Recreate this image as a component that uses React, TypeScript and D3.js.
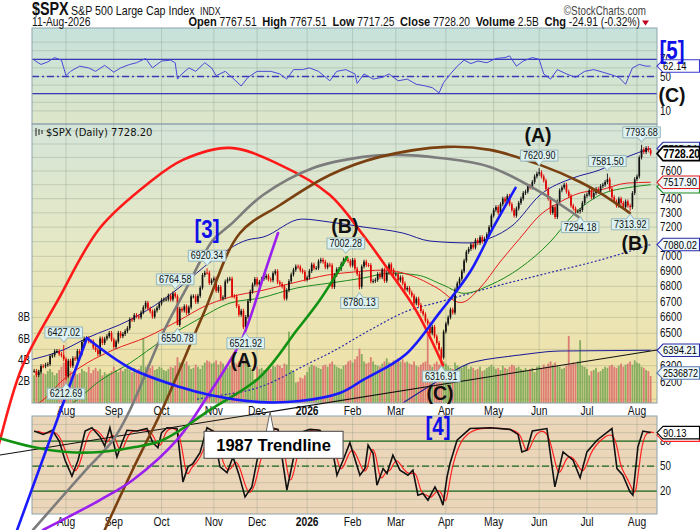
import React, { useEffect, useRef } from "react"
import * as d3 from "d3"

// trading calendar of the chart
const firstDay = "2025-07-14"
const lastDay = "2026-08-11"
const holidays = [
  "2025-09-01", "2025-11-27", "2025-12-25", "2026-01-01", "2026-01-19",
  "2026-02-16", "2026-04-03", "2026-05-25", "2026-06-19", "2026-07-03",
]

// daily closes, one array per month
const closeJul25 = [6268.56, 6243.76, 6263.7, 6297.36, 6296.79, 6305.6, 6309.62, 6358.91, 6363.35, 6388.64, 6389.77, 6370.86, 6362.9, 6339.39]
const closeAug25 = [6238.01, 6329.94, 6299.19, 6345.06, 6340.0, 6389.45, 6373.45, 6445.76, 6466.58, 6468.54, 6449.8, 6449.15, 6411.37, 6395.78, 6370.17, 6466.91, 6439.32, 6465.94, 6481.4, 6501.86, 6460.26]
const closeSep25 = [6415.54, 6448.26, 6502.08, 6481.5, 6495.15, 6512.61, 6532.04, 6587.47, 6584.29, 6615.28, 6606.76, 6600.35, 6631.96, 6664.36, 6693.75, 6656.92, 6637.97, 6604.72, 6643.7, 6661.21, 6688.46]
const closeOct25 = [6711.2, 6715.35, 6715.79, 6740.28, 6714.59, 6753.72, 6735.11, 6552.51, 6654.72, 6644.31, 6671.06, 6629.07, 6664.01, 6735.13, 6735.35, 6699.4, 6738.44, 6791.69, 6875.16, 6890.89, 6890.59, 6822.34, 6840.2]
const closeNov25 = [6851.97, 6771.55, 6796.29, 6720.32, 6728.8, 6832.43, 6846.61, 6850.92, 6737.49, 6734.11, 6672.41, 6617.32, 6642.16, 6538.76, 6602.99, 6705.12, 6765.88, 6812.61, 6849.09]
const closeDec25 = [6812.63, 6829.37, 6849.72, 6857.12, 6870.4, 6846.51, 6840.51, 6886.68, 6901.0, 6827.41, 6816.51, 6800.26, 6721.43, 6774.76, 6834.5, 6878.49, 6909.79, 6932.05, 6929.94, 6905.74, 6896.24, 6845.5]
const closeJan26 = [6858.47, 6902.05, 6944.82, 6920.93, 6921.46, 6966.28, 6977.27, 6963.74, 6926.6, 6944.47, 6940.01, 6796.86, 6875.62, 6913.35, 6915.61, 6950.23, 6978.6, 6978.03, 6969.01, 6939.03]
const closeFeb26 = [6976, 6917, 6882, 6798, 6932, 6964, 6942, 6941, 6833, 6836, 6843, 6881, 6861, 6910, 6837, 6890, 6946, 6908, 6879]
const closeMar26 = [6880, 6840, 6860, 6820, 6780, 6790, 6760, 6740, 6690, 6720, 6680, 6640, 6620, 6580, 6560, 6500, 6540, 6480, 6440, 6400, 6350, 6510]
const closeApr26 = [6560, 6600, 6650, 6630, 6780, 6820, 6850, 6900, 6970, 7030, 7050, 7080, 7060, 7110, 7090, 7130, 7100, 7120, 7150, 7200, 7280]
const closeMay26 = [7320, 7340, 7300, 7360, 7400, 7380, 7420, 7360, 7320, 7280, 7330, 7370, 7400, 7440, 7450, 7490, 7480, 7520, 7560, 7580]
const closeJun26 = [7590, 7560, 7530, 7470, 7400, 7300, 7340, 7270, 7380, 7460, 7480, 7500, 7450, 7420, 7350, 7330, 7310, 7310, 7320, 7370, 7420]
const closeJul26 = [7430, 7460, 7410, 7440, 7470, 7450, 7490, 7500, 7520, 7540, 7470, 7410, 7380, 7350, 7400, 7370, 7340, 7380, 7350, 7340, 7440, 7540]
const closeAug26 = [7560, 7700, 7760, 7740, 7770, 7753.11, 7728.2]

// daily volume in billions
const volJul25 = [2.6, 2.9, 3.1, 3.3, 2.8, 2.7, 3.0, 3.2, 2.9, 2.6, 2.8, 3.1, 3.4, 3.8]
const volAug25 = [4.1, 3.3, 3.0, 2.9, 3.1, 2.7, 2.8, 3.2, 3.0, 2.9, 3.4, 2.8, 3.1, 3.3, 3.0, 3.2, 2.6, 2.9, 2.7, 2.8, 3.0]
const volSep25 = [3.4, 3.1, 2.9, 3.3, 3.0, 3.2, 3.4, 3.1, 2.9, 3.3, 3.0, 3.2, 3.5, 6.1, 3.4, 3.6, 3.3, 3.5, 3.1, 3.2, 3.4]
const volOct25 = [3.3, 3.1, 3.0, 3.2, 3.4, 3.3, 3.5, 4.3, 3.8, 3.6, 3.7, 3.9, 3.5, 3.2, 3.3, 3.6, 3.4, 3.2, 3.5, 3.8, 4.0, 3.9, 3.7]
const volNov25 = [3.8, 4.0, 3.6, 3.9, 3.7, 3.4, 3.3, 3.5, 4.0, 3.8, 3.7, 3.9, 3.6, 4.2, 4.4, 3.5, 3.3, 3.0, 2.2]
const volDec25 = [3.4, 3.2, 3.3, 3.1, 3.0, 3.3, 3.2, 3.5, 3.4, 3.6, 3.5, 3.3, 3.7, 3.6, 6.7, 3.1, 2.9, 1.9, 2.0, 2.4, 2.3, 2.6]
const volJan26 = [2.9, 3.4, 3.6, 3.5, 3.4, 3.3, 3.2, 3.5, 3.6, 3.4, 3.7, 3.9, 3.6, 3.4, 3.3, 3.2, 3.5, 3.6, 3.9, 4.0]
const volFeb26 = [3.8, 4.1, 4.4, 5.1, 4.6, 3.9, 3.7, 3.8, 4.3, 3.9, 3.6, 3.5, 3.4, 3.7, 3.9, 4.2, 3.8, 3.7, 4.0]
const volMar26 = [4.0, 4.2, 3.9, 4.1, 3.8, 3.9, 3.7, 3.6, 3.9, 3.5, 3.4, 3.6, 3.8, 3.9, 6.4, 3.6, 3.4, 3.7, 3.9, 3.6, 4.1, 3.9]
const volApr26 = [3.7, 3.5, 3.3, 3.2, 3.8, 3.5, 3.4, 3.3, 3.5, 3.6, 3.2, 3.4, 3.3, 3.1, 3.2, 3.4, 3.0, 3.1, 3.3, 3.4, 3.6]
const volMay26 = [3.4, 3.2, 3.3, 3.1, 3.5, 3.3, 3.2, 3.4, 3.6, 3.5, 3.3, 3.4, 3.2, 3.1, 3.3, 3.0, 3.2, 3.3, 2.9, 3.4]
const volJun26 = [3.5, 3.3, 3.6, 3.4, 3.7, 3.9, 3.6, 3.8, 3.5, 3.4, 3.2, 3.3, 3.5, 6.3, 3.6, 3.8, 3.7, 3.9, 5.9, 3.5, 3.4]
const volJul26 = [3.2, 2.6, 3.0, 3.1, 3.3, 2.9, 3.0, 3.2, 3.4, 3.3, 3.5, 3.6, 3.4, 3.3, 3.5, 3.7, 3.4, 3.6, 3.7, 3.9, 3.6, 4.0]
const volAug26 = [3.8, 3.7, 3.4, 3.3, 3.1, 3.0, 2.54]

const closes = [
  ...closeJul25, ...closeAug25, ...closeSep25, ...closeOct25, ...closeNov25, ...closeDec25, ...closeJan26,
  ...closeFeb26, ...closeMar26, ...closeApr26, ...closeMay26, ...closeJun26, ...closeJul26, ...closeAug26,
]
const volumes = [
  ...volJul25, ...volAug25, ...volSep25, ...volOct25, ...volNov25, ...volDec25, ...volJan26,
  ...volFeb26, ...volMar26, ...volApr26, ...volMay26, ...volJun26, ...volJul26, ...volAug26,
]

// overlays, [trading day, value]
const ma50 = [[-0.9, 6060], [2.6, 6083], [12.7, 6214], [23.2, 6316], [34.7, 6396], [49.6, 6477], [64.1, 6584], [74.2, 6666], [86.1, 6731], [100.6, 6775], [115.5, 6829], [128.8, 6875], [140.3, 6895], [153.4, 6908], [165.2, 6875], [177.1, 6790], [187.5, 6695], [196, 6790], [204.8, 6962], [213.6, 7124], [222.4, 7284], [231.2, 7376], [240, 7441], [248.7, 7462], [260.6, 7512], [271, 7517.9]]
const ma100 = [[5, 5990], [18.8, 6095], [27.6, 6196], [42.1, 6316], [56.6, 6458], [71.6, 6584], [86.1, 6692], [99.3, 6724], [115.5, 6790], [130, 6822], [144.6, 6855], [156.5, 6888], [168.4, 6875], [179.8, 6809], [189, 6755], [200.4, 6809], [213.6, 6922], [226.8, 7097], [236.9, 7284], [248.7, 7426], [263, 7484], [271, 7500]]
const upperBand = [[-0.9, 6338], [12.7, 6396], [23.2, 6470], [42.1, 6584], [56.6, 6712], [64.1, 6796], [78.6, 6975], [93.6, 7111], [100.6, 7131], [117.7, 7256], [130, 7235], [144.6, 7201], [162.1, 7159], [174, 7104], [191.6, 7091], [200.4, 7124], [210.5, 7214], [222.4, 7426], [236.9, 7549], [248.7, 7608], [260.6, 7704], [271, 7765.94]]
const ma200 = [[71.6, 6100], [77.3, 6113], [99.3, 6172], [121, 6316], [130, 6378], [147.6, 6520], [163.9, 6640], [178.4, 6700], [200, 6790], [225, 6885], [248.7, 6975], [271, 7080.02]]
const supportLine = [[162.1, 6078], [179.7, 6226], [191.6, 6316], [213.6, 6365], [231.2, 6390], [271, 6394.21]]

const rsi = [[0, 69], [3, 64], [6, 67], [9, 72], [12, 69], [14, 51], [16, 56], [20, 62], [24, 60], [27, 56], [31, 63], [35, 55], [38, 60], [42, 64], [45, 66], [49, 71], [52, 60], [56, 68], [60, 69], [62, 66], [63, 47], [65, 53], [68, 60], [71, 56], [75, 66], [78, 60], [80, 51], [84, 56], [87, 49], [91, 39], [94, 49], [98, 56], [104, 56], [108, 53], [111, 47], [114, 58], [118, 58], [121, 60], [125, 56], [130, 45], [133, 56], [137, 58], [141, 53], [142, 42], [145, 53], [149, 47], [153, 49], [156, 53], [160, 45], [164, 47], [168, 41], [172, 39], [175, 37], [178, 31], [180, 43], [183, 53], [186, 62], [189, 69], [192, 65], [195, 68], [199, 66], [203, 71], [207, 72], [209, 74], [212, 62], [215, 68], [219, 72], [222, 70], [224, 53], [227, 47], [230, 58], [234, 53], [238, 49], [242, 56], [246, 58], [250, 55], [255, 51], [257, 49], [260, 41], [263, 60], [266, 64], [269, 62], [271, 62.14]]
const stochK = [[0, 92], [4, 88], [8, 93], [11, 80], [13.6, 57], [16.6, 38], [19.3, 57], [22.4, 92], [25.4, 96], [29, 85], [31, 74], [33.3, 96], [36.4, 61], [38.6, 78], [40.8, 93], [45.2, 92], [49.6, 95], [52.2, 78], [54.4, 72], [56, 90], [58.4, 96], [62.8, 95], [65.4, 31], [67.6, 49], [69.8, 53], [72.9, 66], [76, 96], [78.6, 92], [81.7, 49], [84.8, 42], [87.4, 61], [90, 40], [92.7, 13], [95.7, 25], [98, 57], [100.6, 80], [103.7, 96], [107.2, 94], [109, 60], [111.1, 21], [113.8, 57], [116.9, 90], [121.2, 94], [125.6, 93], [130.9, 73], [133.1, 39], [135.8, 57], [138.8, 78], [143.2, 39], [145.4, 47], [146.8, 75], [149, 65], [150.7, 27], [153.4, 47], [155.1, 41], [157.7, 63], [160.8, 45], [164.3, 39], [166.5, 45], [168.7, 15], [170.9, 17], [173.1, 9], [176.2, 25], [178.4, 13], [179.7, 3], [181.5, 37], [182.8, 53], [185.9, 81], [191.6, 95], [200.4, 96], [209.2, 94], [212.7, 88], [214.4, 67], [216.6, 69], [219, 92], [225.4, 95], [228.9, 25], [232.5, 67], [236.9, 57], [240, 36], [243, 67], [247.4, 81], [254, 95], [256.2, 47], [258.8, 39], [261.9, 19], [263.2, 15], [265.4, 73], [267.6, 92], [271, 90.13]]

// hand drawn arcs, [trading day, price]
const arcRed = [[-17.2, 5753], [-15, 5865], [-5.3, 6292], [10.5, 6712], [28.9, 7194], [50.9, 7520], [65.4, 7682], [86.1, 7771], [108.1, 7645], [130, 7426], [144.6, 7145], [156.4, 6895], [168.3, 6634], [179.7, 6304]]
const arcGray = [[-0.5, 5378], [21.5, 5681], [34.7, 5865], [42.1, 6037], [56.6, 6502], [67.2, 6796], [78.6, 7111], [86.1, 7214], [100.6, 7426], [122.6, 7622], [144.6, 7704], [159.5, 7719], [178.4, 7696], [200.4, 7630], [222.4, 7448], [240, 7263]]
const arcBrown = [[31, 5378], [44.3, 5725], [56.2, 6037], [74.2, 6615], [90.5, 7159], [108.1, 7355], [130, 7571], [152, 7704], [181.5, 7779], [200.4, 7756], [222.4, 7645], [240, 7520], [248.7, 7441], [261.9, 7298]]
const lineBlue = [[-7.5, 5378], [23.2, 6470]]
const arcBlue = [[23.2, 6470], [42.1, 6286], [64.1, 6172], [77.3, 6125], [99.3, 6083], [116.9, 6089], [134.4, 6136], [144.6, 6214], [163, 6365], [178.4, 6634], [191.6, 6895], [201.7, 7194], [211.6, 7477]]
const arcPurple = [[3.9, 5378], [28.9, 5535], [43.4, 5643], [62.8, 5865], [76, 6113], [90.5, 6439], [94.9, 6596], [101, 6875], [107.2, 7159]]
const arcGreen = [[-17.2, 5882], [-0.5, 5825], [14.4, 5797], [28.9, 5797], [44.3, 5825], [56.6, 5865], [77.3, 6037], [99.3, 6232], [115.5, 6520], [125.6, 6712], [137.5, 6995]]
const trend1987 = [[-15, 5781], [273.8, 6396]]

const priceLabels = [
  { day: 13, price: 6427.02, low: false },
  { day: 14, price: 6212.69, low: true },
  { day: 62, price: 6764.58, low: false },
  { day: 63, price: 6550.78, low: true },
  { day: 76, price: 6920.34, low: false },
  { day: 93, price: 6521.92, low: true },
  { day: 137, price: 7002.28, low: false },
  { day: 143, price: 6780.13, low: true },
  { day: 179, price: 6316.91, low: true },
  { day: 222, price: 7620.9, low: false },
  { day: 240, price: 7294.18, low: true },
  { day: 252, price: 7581.5, low: false },
  { day: 262, price: 7313.92, low: true },
  { day: 267, price: 7793.68, low: false },
]

const waveLabels = [
  { text: "[3]", day: 76, price: 7180, blue: true },
  { text: "(A)", day: 92.3, price: 6335, blue: false },
  { text: "(B)", day: 136.6, price: 7208, blue: false },
  { text: "(C)", day: 178.4, price: 6136, blue: false },
  { text: "[4]", day: 177.5, price: 5939, blue: true },
  { text: "(A)", day: 221.5, price: 7869, blue: false },
  { text: "(B)", day: 264.1, price: 7091, blue: false },
]
const rsiWaveLabels = [
  { text: "[5]", day: 280.4, value: 80.8, blue: true },
  { text: "(C)", day: 280.4, value: 28.5, blue: false },
]

// right axis ticks that are not hidden under the value tags
const priceTicks = [6200, 6300, 6500, 6600, 6700, 6800, 6900, 7000, 7200, 7300, 7400, 7600]
const rsiTicks = [70, 50, 10]
const stochTicks = [80, 50, 20]
const volTicks = [2, 4, 6, 8]

const sans = "'Liberation Sans', Arial, sans-serif"
const squeeze = 0.82

const left = 32
const right = 657

function tradingDays() {
  const fmt = d3.timeFormat("%Y-%m-%d")
  const parse = d3.timeParse("%Y-%m-%d")
  return d3.timeDay
    .range(parse(firstDay), d3.timeDay.offset(parse(lastDay), 1))
    .filter(d => d.getDay() !== 0 && d.getDay() !== 6 && !holidays.includes(fmt(d)))
}

// narrow text: Arial squeezed horizontally, like the chart's condensed face
function ntext(g, x, y, str, size, opts: any = {}) {
  return g.append("text")
    .attr("transform", `translate(${x},${y}) scale(${squeeze},1)`)
    .attr("font-family", sans)
    .attr("font-size", size)
    .attr("font-weight", opts.bold ? "bold" : "normal")
    .attr("text-anchor", opts.anchor || "start")
    .attr("fill", opts.fill || "#111")
    .text(str)
}

function gradient(defs, id, stops) {
  const g = defs.append("linearGradient").attr("id", id).attr("x1", 0).attr("y1", 0).attr("x2", 0).attr("y2", 1)
  stops.forEach(([o, c]) => g.append("stop").attr("offset", o).attr("stop-color", c))
}

function clip(defs, id, top, bottom) {
  defs.append("clipPath").attr("id", id)
    .append("rect").attr("x", left).attr("y", top).attr("width", right - left).attr("height", bottom - top)
}

function tagShape(g, cy, stroke, opts: any = {}) {
  const h = opts.bold ? 14 : 12.5
  g.append("path")
    .attr("d", `M${right},${cy} L${right + 6},${cy - h / 2} H699.5 V${cy + h / 2} H${right + 6} Z`)
    .attr("fill", opts.fill || "#eef8fa")
    .attr("stroke", stroke)
    .attr("stroke-width", opts.bold ? 1.6 : 1.1)
}

function axisTag(g, cy, text, stroke, opts: any = {}) {
  tagShape(g, cy, stroke, opts)
  ntext(g, right + 6, cy + 4.2, text, opts.size || (opts.bold ? 12.5 : 11.5), { bold: opts.bold, fill: "#000" })
}

function drawChart(svg) {
  const days = tradingDays()
  const x = d3.scaleLinear().domain([-0.95, 273.8]).range([left, right])
  const y = d3.scaleLog().domain([6077.6, 7952]).range([403, 124])
  const yVol = d3.scaleLinear().domain([0, 10]).range([403, 296.5])
  const yRsi = d3.scaleLinear().domain([0, 100]).range([119.5, 33.5])
  const ySto = d3.scaleLinear().domain([0, 100]).range([507.7, 424.4])

  const defs = svg.append("defs")
  gradient(defs, "gRsi", [["0%", "#c6e2dc"], ["100%", "#dde6c9"]])
  gradient(defs, "gMain", [["0%", "#d5e5d9"], ["45%", "#e6e8c3"], ["100%", "#f1e0a1"]])
  clip(defs, "cRsi", 28, 124)
  clip(defs, "cMain", 124, 403)
  clip(defs, "cSto", 416, 514)

  const monthStarts = days
    .map((d, i) => i)
    .filter(i => i > 0 && days[i].getMonth() !== days[i - 1].getMonth())

  const gridColor = "rgba(130,145,125,0.32)"

  // panel backgrounds
  const panels = [[28, 124, "url(#gRsi)"], [124, 403, "url(#gMain)"], [416, 514, "#ecd6ba"]]
  panels.forEach(([t, b, f]) => {
    svg.append("rect").attr("x", left).attr("y", t).attr("width", right - left).attr("height", b - t).attr("fill", f)
    monthStarts.forEach(i => {
      svg.append("line").attr("x1", x(i)).attr("x2", x(i)).attr("y1", t).attr("y2", b)
        .attr("stroke", gridColor).attr("stroke-width", 1)
    })
  })
  const hGrid = svg.append("g").attr("stroke", gridColor).attr("stroke-width", 1)
  d3.range(6100, 8000, 100).forEach(p => {
    if (y(p) > 124 && y(p) < 403) hGrid.append("line").attr("x1", left).attr("x2", right).attr("y1", y(p)).attr("y2", y(p))
  })
  d3.range(10, 100, 10).forEach(v => {
    hGrid.append("line").attr("x1", left).attr("x2", right).attr("y1", yRsi(v)).attr("y2", yRsi(v))
  })
  d3.range(0, 110, 10).forEach(v => {
    hGrid.append("line").attr("x1", left).attr("x2", right).attr("y1", ySto(v)).attr("y2", ySto(v))
  })

  // RSI panel
  const rsiG = svg.append("g").attr("clip-path", "url(#cRsi)")
  ;[70, 30].forEach(v => {
    rsiG.append("line").attr("x1", left).attr("x2", right).attr("y1", yRsi(v)).attr("y2", yRsi(v))
      .attr("stroke", "#3a3ab8").attr("stroke-width", 1.3)
  })
  rsiG.append("line").attr("x1", left).attr("x2", right).attr("y1", yRsi(50)).attr("y2", yRsi(50))
    .attr("stroke", "#3a3ab8").attr("stroke-width", 1.3).attr("stroke-dasharray", "7,3,2,3")
  rsiG.append("path")
    .attr("d", d3.line().x(d => x(d[0])).y(d => yRsi(d[1]))(rsi))
    .attr("fill", "none").attr("stroke", "#4848d8").attr("stroke-width", 1)

  // main panel
  const mainG = svg.append("g").attr("clip-path", "url(#cMain)")
  const bars = closes.map((c, i) => {
    const o = i > 0 ? closes[i - 1] : c
    const hi = priceLabels.find(l => l.day === i && !l.low)
    const lo = priceLabels.find(l => l.day === i && l.low)
    return { i, o, c, v: volumes[i], up: c >= o, hi: hi ? hi.price : null, lo: lo ? lo.price : null }
  })

  mainG.selectAll("rect.vol").data(bars).join("rect")
    .attr("class", "vol")
    .attr("x", d => x(d.i) - 0.9)
    .attr("width", 1.8)
    .attr("y", d => yVol(d.v))
    .attr("height", d => 403 - yVol(d.v))
    .attr("fill", d => (d.up ? "rgba(118,164,84,0.86)" : "rgba(218,108,108,0.86)"))

  const line = d3.line().x(d => x(d[0])).y(d => y(d[1])).curve(d3.curveMonotoneX)
  mainG.append("path").attr("d", line(ma200)).attr("fill", "none").attr("stroke", "#2c2ca8").attr("stroke-width", 1.2).attr("stroke-dasharray", "2,2")
  mainG.append("path").attr("d", line(supportLine)).attr("fill", "none").attr("stroke", "#1c1c96").attr("stroke-width", 1.1)
  mainG.append("path").attr("d", line(ma100)).attr("fill", "none").attr("stroke", "#1c8a1c").attr("stroke-width", 1)
  mainG.append("path").attr("d", line(ma50)).attr("fill", "none").attr("stroke", "#e81c1c").attr("stroke-width", 1)
  mainG.append("path").attr("d", line(upperBand)).attr("fill", "none").attr("stroke", "#1c1c9c").attr("stroke-width", 1)

  mainG.selectAll("line.wick").data(bars).join("line")
    .attr("class", "wick")
    .attr("x1", d => x(d.i)).attr("x2", d => x(d.i))
    .attr("y1", d => (d.hi ? y(d.hi) : y(Math.max(d.o, d.c)) - 2))
    .attr("y2", d => (d.lo ? y(d.lo) : y(Math.min(d.o, d.c)) + 2))
    .attr("stroke", d => (d.up ? "#111" : "#e00000"))
    .attr("stroke-width", 0.9)
  mainG.selectAll("rect.body").data(bars).join("rect")
    .attr("class", "body")
    .attr("x", d => x(d.i) - 0.85)
    .attr("width", 1.7)
    .attr("y", d => y(Math.max(d.o, d.c)))
    .attr("height", d => Math.max(1, y(Math.min(d.o, d.c)) - y(Math.max(d.o, d.c))))
    .attr("fill", d => (d.up ? "#111" : "#e00000"))

  // stochastic panel
  const stoG = svg.append("g").attr("clip-path", "url(#cSto)")
  ;[80, 20].forEach(v => {
    stoG.append("line").attr("x1", left).attr("x2", right).attr("y1", ySto(v)).attr("y2", ySto(v))
      .attr("stroke", "#1d6a1d").attr("stroke-width", 1.2)
  })
  stoG.append("line").attr("x1", left).attr("x2", right).attr("y1", ySto(50)).attr("y2", ySto(50))
    .attr("stroke", "#1d6a1d").attr("stroke-width", 1.2).attr("stroke-dasharray", "7,3,2,3")
  const stochD = stochK.map(d => [d[0] + 1.4, d[1]])
  stoG.append("path")
    .attr("d", d3.line().x(d => x(d[0])).y(d => ySto(d[1])).curve(d3.curveBasis)(stochD))
    .attr("fill", "none").attr("stroke", "#ff2020").attr("stroke-width", 1.2)
  stoG.append("path")
    .attr("d", d3.line().x(d => x(d[0])).y(d => ySto(d[1]))(stochK))
    .attr("fill", "none").attr("stroke", "#111").attr("stroke-width", 1.6)

  // panel borders
  panels.forEach(([t, b]) => {
    svg.append("rect").attr("x", left).attr("y", t).attr("width", right - left).attr("height", b - t)
      .attr("fill", "none").attr("stroke", "#8ea4ac").attr("stroke-width", 1)
  })

  // axis labels
  const axisText = svg.append("g")
  monthStarts.forEach(i => {
    const d = days[i]
    const jan = d.getMonth() === 0
    const label = jan ? d3.timeFormat("%Y")(d) : d3.timeFormat("%b")(d)
    ;[414.5, 525.5].forEach(ty => {
      ntext(axisText, x(i), ty, label, 12.5, { anchor: "middle", bold: jan })
    })
  })
  priceTicks.forEach(p => ntext(axisText, right + 3, y(p) + 4, p, 12))
  rsiTicks.forEach(v => ntext(axisText, right + 3, yRsi(v) + 4, v, 12))
  stochTicks.forEach(v => ntext(axisText, right + 3, ySto(v) + 4, v, 12))
  volTicks.forEach(v => ntext(axisText, 30, yVol(v) + 3.5, v + "B", 12, { anchor: "end" }))

  // hand drawn arcs
  const arcLine = d3.line().x(d => x(d[0])).y(d => y(d[1])).curve(d3.curveCatmullRom.alpha(0.5))
  const arcs = [
    [arcRed, "#ff1a1a"], [arcGray, "#7c7c7c"], [arcBrown, "#7a4010"], [arcPurple, "#9b20f0"],
    [arcGreen, "#129212"], [arcBlue, "#1a1aff"], [lineBlue, "#1a1aff"],
  ]
  const arcG = svg.append("g").attr("fill", "none").attr("stroke-linecap", "round")
  arcG.append("path").attr("d", d3.line().x(d => x(d[0])).y(d => y(d[1]))(trend1987)).attr("stroke", "#111").attr("stroke-width", 1.1)
  arcs.forEach(([pts, col]) => {
    arcG.append("path").attr("d", arcLine(pts)).attr("stroke", col).attr("stroke-width", 2.6)
  })

  // 1987 trendline callout
  const t0 = [x(trend1987[0][0]), y(trend1987[0][1])]
  const t1 = [x(trend1987[1][0]), y(trend1987[1][1])]
  const tipX = x(103.7)
  const tipY = t0[1] + ((tipX - t0[0]) / (t1[0] - t0[0])) * (t1[1] - t0[1])
  const boxX = tipX - 66
  const boxY = tipY + 19.5
  const trendG = svg.append("g")
  trendG.append("path")
    .attr("d", `M${tipX - 4},${boxY + 1} L${tipX},${tipY} L${tipX + 4},${boxY + 1}`)
    .attr("fill", "#fff").attr("stroke", "#666").attr("stroke-width", 1)
  trendG.append("rect").attr("x", boxX).attr("y", boxY).attr("width", 139).attr("height", 27)
    .attr("fill", "#fff").attr("stroke", "#444").attr("stroke-width", 1)
  trendG.append("text").attr("x", boxX + 69.5).attr("y", boxY + 19.5).attr("text-anchor", "middle")
    .attr("font-family", sans).attr("font-weight", "bold").attr("font-size", 16.5).attr("fill", "#000")
    .text("1987 Trendline")

  // wave labels
  const waveG = svg.append("g")
  waveLabels.forEach(w => {
    if (w.blue) ntext(waveG, x(w.day), y(w.price) + 8.5, w.text, 25, { anchor: "middle", bold: true, fill: "#1010e8" })
    else waveG.append("text").attr("x", x(w.day)).attr("y", y(w.price) + 7).attr("text-anchor", "middle")
      .attr("font-family", sans).attr("font-weight", "bold").attr("font-size", 19.5).attr("fill", "#111").text(w.text)
  })

  // price callouts
  priceLabels.forEach(l => {
    const g = svg.append("g")
    const px = x(l.day)
    const py = y(l.price)
    const h = 11
    const top = l.low ? py + 8 : py - 7 - h
    const t = ntext(g, px, top + 9, l.price.toFixed(2), 11, { anchor: "middle" })
    const w = t.node().getComputedTextLength() * squeeze + 5
    const xl = px - w / 2
    const xr = px + w / 2
    const d = l.low
      ? `M${xl},${top} H${px - 3.5} L${px},${py + 3} L${px + 3.5},${top} H${xr} V${top + h} H${xl} Z`
      : `M${xl},${top} H${xr} V${top + h} H${px + 3.5} L${px},${py - 2.5} L${px - 3.5},${top + h} H${xl} Z`
    g.insert("path", "text").attr("d", d).attr("fill", "#dcf1f1").attr("stroke", "#98b5b8").attr("stroke-width", 1)
  })

  // right axis tags
  const tagG = svg.append("g")
  axisTag(tagG, y(7765.94), "7765.94", "#2a2aa8")
  axisTag(tagG, y(7728.2), "7728.20", "#000", { bold: true, fill: "#fff" })
  tagShape(tagG, y(7500) + 2, "#1c8a1c")
  axisTag(tagG, y(7517.9), "7517.90", "#e01c1c")
  axisTag(tagG, y(7080.02), "7080.02", "#2a2aa8")
  axisTag(tagG, y(6394.21), "6394.21", "#2a2aa8")
  axisTag(tagG, yVol(2.54) - 3, "2536872", "#5577aa", { size: 11 })
  axisTag(tagG, yRsi(62.14), "62.14", "#3a3ad0", { fill: "#fff" })
  tagShape(tagG, ySto(90.13) + 2.5, "#ff2020", { fill: "#fff" })
  axisTag(tagG, ySto(90.13), "90.13", "#000", { fill: "#fff" })

  rsiWaveLabels.forEach(w => {
    if (w.blue) ntext(svg, x(w.day), yRsi(w.value) + 8.5, w.text, 25, { anchor: "middle", bold: true, fill: "#1010e8" })
    else svg.append("text").attr("x", x(w.day)).attr("y", yRsi(w.value) + 7).attr("text-anchor", "middle")
      .attr("font-family", sans).attr("font-weight", "bold").attr("font-size", 19.5).attr("fill", "#111").text(w.text)
  })

  // chart title inside main panel
  const icon = svg.append("g").attr("stroke", "#222").attr("stroke-width", 1)
  ;[36, 39, 42].forEach((ix, k) => {
    icon.append("line").attr("x1", ix).attr("x2", ix).attr("y1", 128 + k).attr("y2", 136 - k)
  })
  svg.append("text").attr("x", 46).attr("y", 136).attr("font-family", "'DejaVu Sans', Verdana, sans-serif")
    .attr("font-size", 10).attr("fill", "#111").text("$SPX (Daily) 7728.20")

  // header
  const head = svg.append("g")
  ntext(head, 32, 15, "$SPX", 17.5, { bold: true })
  ntext(head, 71, 15, "S&P 500 Large Cap Index", 13)
  ntext(head, 200, 15, "INDX", 10.5)
  ntext(head, 646, 14.5, "©StockCharts.com", 12, { anchor: "end", fill: "#444" })
  ntext(head, 32, 26, "11-Aug-2026", 12.5)
  const stats = ntext(head, 640, 26, "", 12.5, { anchor: "end" })
  const parts = [
    ["Open", " 7767.51\u00a0\u00a0"], ["High", " 7767.51\u00a0\u00a0"], ["Low", " 7717.25\u00a0\u00a0"],
    ["Close", " 7728.20\u00a0\u00a0"], ["Volume", " 2.5B\u00a0\u00a0"], ["Chg", " -24.91 (-0.32%)"],
  ]
  parts.forEach(([k, v]) => {
    stats.append("tspan").attr("font-weight", "bold").attr("font-size", 13.5).text(k)
    stats.append("tspan").text(v)
  })
  head.append("path").attr("d", "M642,20.5 H649 L645.5,25.5 Z").attr("fill", "#c00020")
}

export default function App() {
  const ref = useRef<SVGSVGElement>(null)

  useEffect(() => {
    document.body.style.margin = "0"
    if (ref.current) {
      const svg = d3.select(ref.current)
      svg.selectAll("*").remove()
      drawChart(svg)
    }
  }, [])

  return <svg ref={ref} width={700} height={530} style={{ display: "block", background: "#fff" }} />
}
